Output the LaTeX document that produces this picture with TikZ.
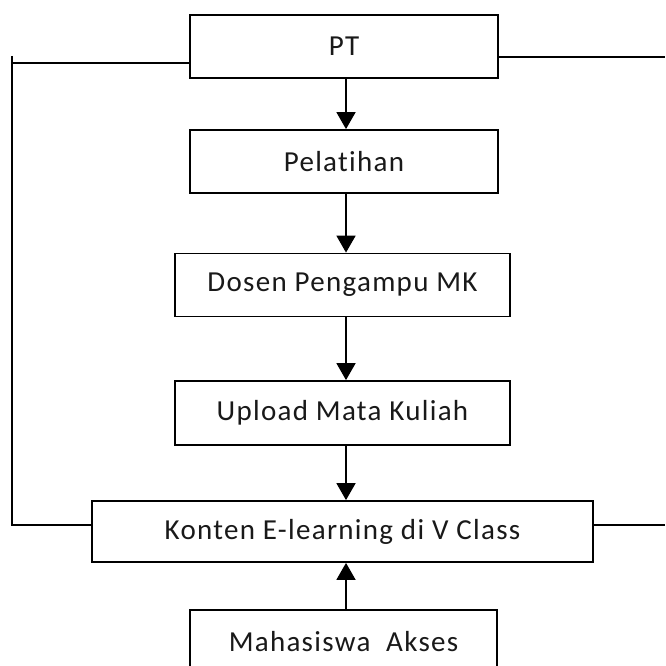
\documentclass[tikz,border=0pt]{standalone}
\usepackage{fontspec}
\setmainfont{Carlito}[Ligatures={NoCommon}, LetterSpace=4.5]
\usetikzlibrary{arrows.meta}
\begin{document}
\begin{tikzpicture}[x=1pt,y=-1pt,
  box/.style={draw, line width=1.8pt, minimum height=63pt, inner sep=0pt, fill=white,
    font=\fontsize{29}{34}\selectfont, text=black!90},
  arr/.style={line width=1.8pt, -{Triangle[length=17pt,width=19pt]}},
  ln/.style={line width=1.8pt}]
\useasboundingbox (0,0) rectangle (665,666);
\begin{scope}
\clip (0,0) rectangle (665,666);
\node[box, minimum width=308pt] (pt) at (344,46.5) {PT};
\node[box, minimum width=308pt] (pel) at (344,161.5) {Pelatihan};
\node[box, minimum width=335pt] (dos) at (342.5,285) {Dosen Pengampu MK};
\node[box, minimum width=335pt, minimum height=64pt] (upl) at (342.5,413) {Upload Mata Kuliah};
\node[box, minimum width=501pt, minimum height=61pt] (kon) at (342.5,531.5) {Konten E-learning di V Class};
\node[box, minimum width=307pt] (mhs) at (343.5,641.5) {Mahasiswa\ \ Akses};
\coordinate (ax) at (346,0);
\draw[arr] (pt.south -| ax) -- (pel.north -| ax);
\draw[arr] (pel.south -| ax) -- (dos.north -| ax);
\draw[arr] (dos.south -| ax) -- (upl.north -| ax);
\draw[arr] (upl.south -| ax) -- (kon.north -| ax);
\draw[arr] (mhs.north -| ax) -- (kon.south -| ax);
\coordinate (ltop) at (12,56);
\coordinate (lbot) at (12,525);
\coordinate (lmid) at (12,63);
\draw[ln] (ltop) -- (lbot) -- (kon.west |- lbot);
\draw[ln] (pt.west |- lmid) -- (lmid);
\coordinate (rt) at (665,57);
\coordinate (rb) at (665,525);
\draw[ln] (pt.east |- rt) -- (rt);
\draw[ln] (kon.east |- rb) -- (rb);
\end{scope}
\end{tikzpicture}
\end{document}
